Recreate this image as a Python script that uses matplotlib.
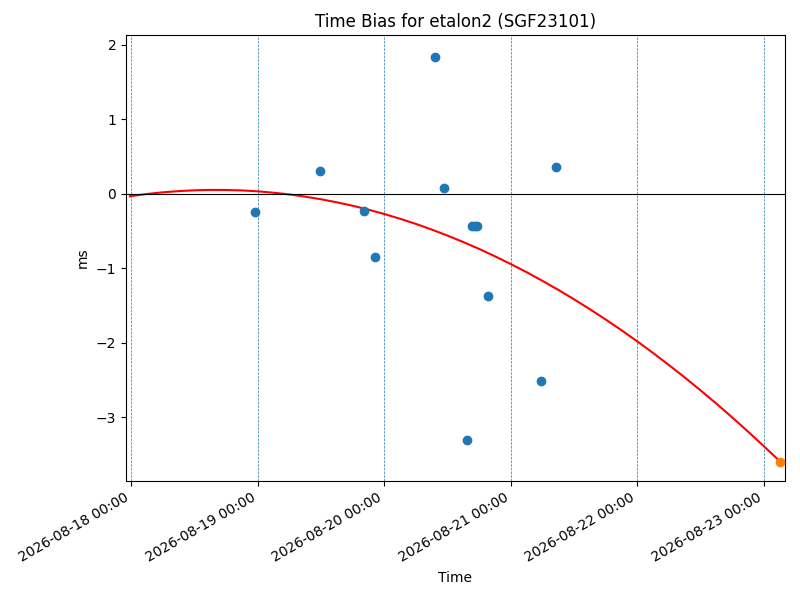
import numpy as np
import matplotlib
matplotlib.use("Agg")
from matplotlib import pyplot as plt
import matplotlib.dates as mdates
from datetime import datetime, timedelta

# medidas (hora, sesgo en ms)
obs_time = ["2026-08-18 23:27", "2026-08-19 11:47", "2026-08-19 20:10",
            "2026-08-19 22:15", "2026-08-20 09:37", "2026-08-20 11:20",
            "2026-08-20 15:42", "2026-08-20 16:39", "2026-08-20 17:13",
            "2026-08-20 17:37", "2026-08-20 19:42", "2026-08-21 05:46",
            "2026-08-21 08:36"]
obs_bias = [-0.24, 0.31, -0.23, -0.85, 1.84, 0.08, -3.31, -0.43, -0.43,
            -0.43, -1.37, -2.52, 0.36]

# punto predicho
pred_time = ["2026-08-23 03:09"]
pred_bias = [-3.61]

# curva ajustada (dias desde 2026-08-18)
base = datetime(2026, 8, 18)
fit_days = [-0.012, 0.125, 0.25, 0.375, 0.5, 0.625, 0.75, 0.875, 1.0,
            1.125, 1.25, 1.375, 1.5, 1.625, 1.75, 1.875, 2.0, 2.125, 2.25,
            2.375, 2.5, 2.625, 2.75, 2.875, 3.0, 3.125, 3.25, 3.375, 3.5,
            3.625, 3.75, 3.875, 4.0, 4.125, 4.25, 4.375, 4.5, 4.625, 4.75,
            4.875, 5.0, 5.131]
fit_bias = [-0.033, -0.002, 0.02, 0.036, 0.047, 0.052, 0.051, 0.045, 0.033,
            0.014, -0.009, -0.039, -0.074, -0.115, -0.161, -0.214, -0.272,
            -0.336, -0.405, -0.481, -0.562, -0.649, -0.741, -0.840, -0.944,
            -1.053, -1.169, -1.290, -1.417, -1.550, -1.688, -1.832, -1.982,
            -2.138, -2.299, -2.466, -2.639, -2.817, -3.002, -3.192, -3.388,
            -3.597]

fmt = "%Y-%m-%d %H:%M"
tx = [datetime.strptime(s, fmt) for s in obs_time]
tp = [datetime.strptime(s, fmt) for s in pred_time]
tf = [base + timedelta(days=d) for d in fit_days]

fig, ax = plt.subplots(figsize=(8, 6), dpi=100)
ax.scatter(tx, obs_bias, zorder=3)
ax.plot(tf, fit_bias, color="r")
ax.scatter(tp, pred_bias, zorder=3)
ax.axhline(0, color="k", linewidth=0.8)
ax.xaxis.set_major_locator(mdates.DayLocator())
ax.xaxis.set_major_formatter(mdates.DateFormatter(fmt))
ax.grid(True, axis="x", linestyle="--", color="C0", linewidth=0.5)
ax.set_xlim(base - timedelta(days=0.0435), base + timedelta(days=5.17))
ax.set_ylim(-3.86, 2.134)
ax.set_title("Time Bias for etalon2 (SGF23101)")
ax.set_xlabel("Time")
ax.set_ylabel("ms")
fig.autofmt_xdate()
fig.subplots_adjust(left=0.1575, right=0.98125, top=0.9417, bottom=0.1983)
fig.savefig("out.png")
